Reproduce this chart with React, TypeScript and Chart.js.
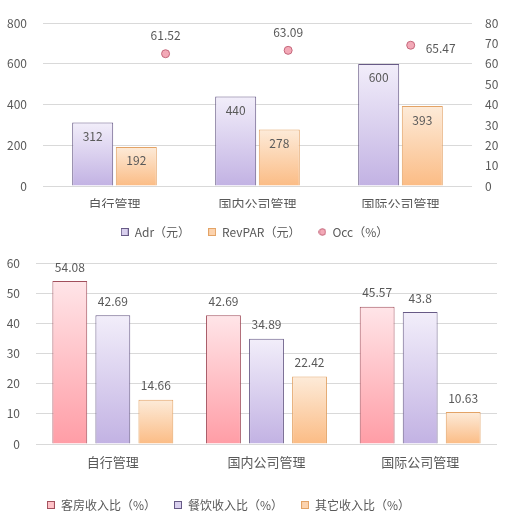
import React, { useEffect, useRef } from "react";
import { Chart, registerables } from "chart.js";

Chart.register(...registerables);

// ---------- data ----------
const categories = ["自行管理", "国内公司管理", "国际公司管理"];

const adrValues = [312, 440, 600];
const revparValues = [192, 278, 393];
const occValues = [61.52, 63.09, 65.47];
const occLabelSides = ["pointTop", "pointTop", "pointRight"];

const roomShare = [54.08, 42.69, 45.57];
const fbShare = [42.69, 34.89, 43.8];
const otherShare = [14.66, 22.42, 10.63];

// ---------- style ----------
const FONT = '"Noto Sans CJK SC", "Noto Sans", sans-serif';
const TEXT = "#595959";
const GRID = "#d9d9d9";

const PURPLE = { top: "#f2eefa", bottom: "#c2b2e3", border: "#675a86", legend: "#d9d0ee" };
const ORANGE = { top: "#fdebd9", bottom: "#fbbc85", border: "#e3a366", legend: "#fcd3ae" };
const PINK = { top: "#ffe5e8", bottom: "#ff9da6", border: "#a24f5c", legend: "#ffc2c8" };
const OCC = { fill: "#f3a9b7", border: "#c4677b" };

Chart.defaults.font.family = FONT;
Chart.defaults.color = TEXT;

// top chart plot box (shared by the bar chart and the Occ overlay)
const TOP_H = 248;
const TOP_PAD = { left: 43, right: 37, top: 14, bottom: 62 };

function vGrad(top: string, bottom: string, axisId: string) {
  return (ctx: any) => {
    const chart = ctx.chart;
    const scale = chart.scales && chart.scales[axisId];
    if (!scale || !ctx.parsed) return bottom;
    const y0 = scale.getPixelForValue(ctx.parsed.y);
    const y1 = scale.getPixelForValue(0);
    if (!isFinite(y0) || !isFinite(y1) || Math.abs(y1 - y0) < 1) return bottom;
    const g = chart.ctx.createLinearGradient(0, y0, 0, y1);
    g.addColorStop(0, top);
    g.addColorStop(1, bottom);
    return g;
  };
}

function legendIcon(shape: string, fill: string, stroke: string) {
  const c = document.createElement("canvas");
  c.width = 8;
  c.height = 8;
  const g = c.getContext("2d")!;
  g.fillStyle = fill;
  g.strokeStyle = stroke;
  g.lineWidth = 1;
  if (shape === "circle") {
    g.beginPath();
    g.arc(4, 4, 3.3, 0, Math.PI * 2);
    g.fill();
    g.stroke();
  } else {
    g.fillRect(0.5, 0.5, 7, 7);
    g.strokeRect(0.5, 0.5, 7, 7);
  }
  return c;
}

const valueLabels = {
  id: "valueLabels",
  afterDatasetsDraw(chart: any) {
    const c = chart.ctx;
    c.save();
    c.font = `12px ${FONT}`;
    c.fillStyle = TEXT;
    c.textBaseline = "middle";
    chart.data.datasets.forEach((ds: any, di: number) => {
      const meta = chart.getDatasetMeta(di);
      meta.data.forEach((el: any, i: number) => {
        const raw = ds.data[i];
        const v = typeof raw === "object" ? raw.y : raw;
        const pos = Array.isArray(ds.labelPos) ? ds.labelPos[i] : ds.labelPos;
        let x = el.x;
        let y = el.y;
        c.textAlign = "center";
        if (pos === "inside") y += 14;
        else if (pos === "above") y -= 14;
        else if (pos === "pointTop") y -= 18;
        else if (pos === "pointRight") {
          c.textAlign = "left";
          x += 15;
          y += 3;
        }
        c.fillText(String(v), x, y);
      });
    });
    c.restore();
  },
};

const legendShift = {
  id: "legendShift",
  afterLayout(chart: any, _args: any, opts: any) {
    const dx = (opts && opts.dx) || 0;
    if (chart.legend && dx) {
      chart.legend.left += dx;
      chart.legend.right += dx;
    }
  },
};

type LegendEntry = { text: string; shape: string; fill: string; stroke: string };

function legendOpts(padding: number, entries: LegendEntry[]) {
  return {
    position: "bottom" as const,
    labels: {
      usePointStyle: true,
      boxWidth: 8,
      boxHeight: 8,
      padding,
      color: TEXT,
      font: { size: 12, family: FONT },
      generateLabels: () =>
        entries.map((e, i) => ({
          text: e.text,
          fillStyle: e.fill,
          strokeStyle: e.stroke,
          lineWidth: 1,
          pointStyle: legendIcon(e.shape, e.fill, e.stroke),
          hidden: false,
          datasetIndex: i,
          fontColor: TEXT,
        })),
    },
  };
}

function topConfig(): any {
  const entries: LegendEntry[] = [
    { text: "Adr（元）", shape: "rect", fill: PURPLE.legend, stroke: PURPLE.border },
    { text: "RevPAR（元）", shape: "rect", fill: ORANGE.legend, stroke: ORANGE.border },
    { text: "Occ（%）", shape: "circle", fill: OCC.fill, stroke: OCC.border },
  ];
  const bar = {
    borderWidth: 1,
    categoryPercentage: 0.61,
    barPercentage: 0.94,
    labelPos: "inside",
  };
  return {
    type: "bar",
    data: {
      labels: categories,
      datasets: [
        {
          ...bar,
          label: entries[0].text,
          data: adrValues,
          backgroundColor: vGrad(PURPLE.top, PURPLE.bottom, "y"),
          borderColor: PURPLE.border,
        },
        {
          ...bar,
          label: entries[1].text,
          data: revparValues,
          backgroundColor: vGrad(ORANGE.top, ORANGE.bottom, "y"),
          borderColor: ORANGE.border,
        },
      ],
    },
    options: {
      animation: false,
      responsive: true,
      maintainAspectRatio: false,
      layout: { padding: { top: TOP_PAD.top, left: 0, right: 0, bottom: 0 } },
      plugins: {
        legend: legendOpts(18, entries),
        tooltip: { enabled: false },
      },
      scales: {
        x: {
          grid: { display: false, drawTicks: false },
          border: { display: false },
          ticks: { font: { size: 13 }, color: TEXT, padding: 10 },
          afterFit: (s: any) => {
            s.height = 22;
          },
        },
        y: {
          position: "left",
          min: 0,
          max: 800,
          ticks: { stepSize: 200, font: { size: 12 }, color: TEXT, padding: 16 },
          grid: { color: GRID, drawTicks: false },
          border: { display: false },
          afterFit: (s: any) => {
            s.width = TOP_PAD.left;
          },
        },
        y2: {
          position: "right",
          min: 0,
          max: 80,
          ticks: { stepSize: 10, font: { size: 12 }, color: TEXT, padding: 13 },
          grid: { display: false, drawTicks: false },
          border: { display: false },
          afterFit: (s: any) => {
            s.width = TOP_PAD.right;
          },
        },
      },
    },
    plugins: [valueLabels, legendShift],
  };
}

// Occ points sit on their own (secondary) horizontal axis, as in the original
function occConfig(): any {
  return {
    type: "scatter",
    data: {
      datasets: [
        {
          label: "Occ（%）",
          data: occValues.map((v, i) => ({ x: i, y: v })),
          pointRadius: 4,
          pointBackgroundColor: OCC.fill,
          pointBorderColor: OCC.border,
          pointBorderWidth: 1,
          labelPos: occLabelSides,
        },
      ],
    },
    options: {
      animation: false,
      responsive: true,
      maintainAspectRatio: false,
      layout: { padding: TOP_PAD },
      plugins: { legend: { display: false }, tooltip: { enabled: false } },
      scales: {
        x: { type: "linear", display: false, min: -1, max: 2.5 },
        y: { type: "linear", display: false, min: 0, max: 80 },
      },
    },
    plugins: [valueLabels],
  };
}

function bottomConfig(): any {
  const entries: LegendEntry[] = [
    { text: "客房收入比（%）", shape: "rect", fill: PINK.legend, stroke: PINK.border },
    { text: "餐饮收入比（%）", shape: "rect", fill: PURPLE.legend, stroke: PURPLE.border },
    { text: "其它收入比（%）", shape: "rect", fill: ORANGE.legend, stroke: ORANGE.border },
  ];
  const bar = {
    borderWidth: 1,
    categoryPercentage: 0.84,
    barPercentage: 0.81,
    labelPos: "above",
  };
  return {
    type: "bar",
    data: {
      labels: categories,
      datasets: [
        {
          ...bar,
          label: entries[0].text,
          data: roomShare,
          backgroundColor: vGrad(PINK.top, PINK.bottom, "y"),
          borderColor: PINK.border,
        },
        {
          ...bar,
          label: entries[1].text,
          data: fbShare,
          backgroundColor: vGrad(PURPLE.top, PURPLE.bottom, "y"),
          borderColor: PURPLE.border,
        },
        {
          ...bar,
          label: entries[2].text,
          data: otherShare,
          backgroundColor: vGrad(ORANGE.top, ORANGE.bottom, "y"),
          borderColor: ORANGE.border,
        },
      ],
    },
    options: {
      animation: false,
      responsive: true,
      maintainAspectRatio: false,
      layout: { padding: { top: 23, left: 0, right: 12, bottom: 0 } },
      plugins: {
        legend: legendOpts(18, entries),
        legendShift: { dx: -20 },
        tooltip: { enabled: false },
      },
      scales: {
        x: {
          grid: { display: false, drawTicks: false },
          border: { display: false },
          ticks: { font: { size: 13 }, color: TEXT, padding: 10 },
          afterFit: (s: any) => {
            s.height = 37;
          },
        },
        y: {
          min: 0,
          max: 60,
          ticks: { stepSize: 10, font: { size: 12 }, color: TEXT, padding: 16 },
          grid: { color: GRID, drawTicks: false },
          border: { display: false },
          afterFit: (s: any) => {
            s.width = 36;
          },
        },
      },
    },
    plugins: [valueLabels, legendShift],
  };
}

function ChartBox({ make, top, height }: { make: () => any; top: number; height: number }) {
  const ref = useRef<HTMLCanvasElement | null>(null);
  useEffect(() => {
    if (!ref.current) return;
    const chart = new Chart(ref.current, make());
    return () => chart.destroy();
  }, []);
  return (
    <div style={{ position: "absolute", left: 0, top, width: 509, height }}>
      <canvas ref={ref} />
    </div>
  );
}

export default function App() {
  return (
    <div style={{ position: "absolute", left: 0, top: 0, width: 509, height: 522, background: "#fff" }}>
      <ChartBox make={topConfig} top={0} height={TOP_H} />
      <ChartBox make={occConfig} top={0} height={TOP_H} />
      <ChartBox make={bottomConfig} top={240} height={281} />
    </div>
  );
}
